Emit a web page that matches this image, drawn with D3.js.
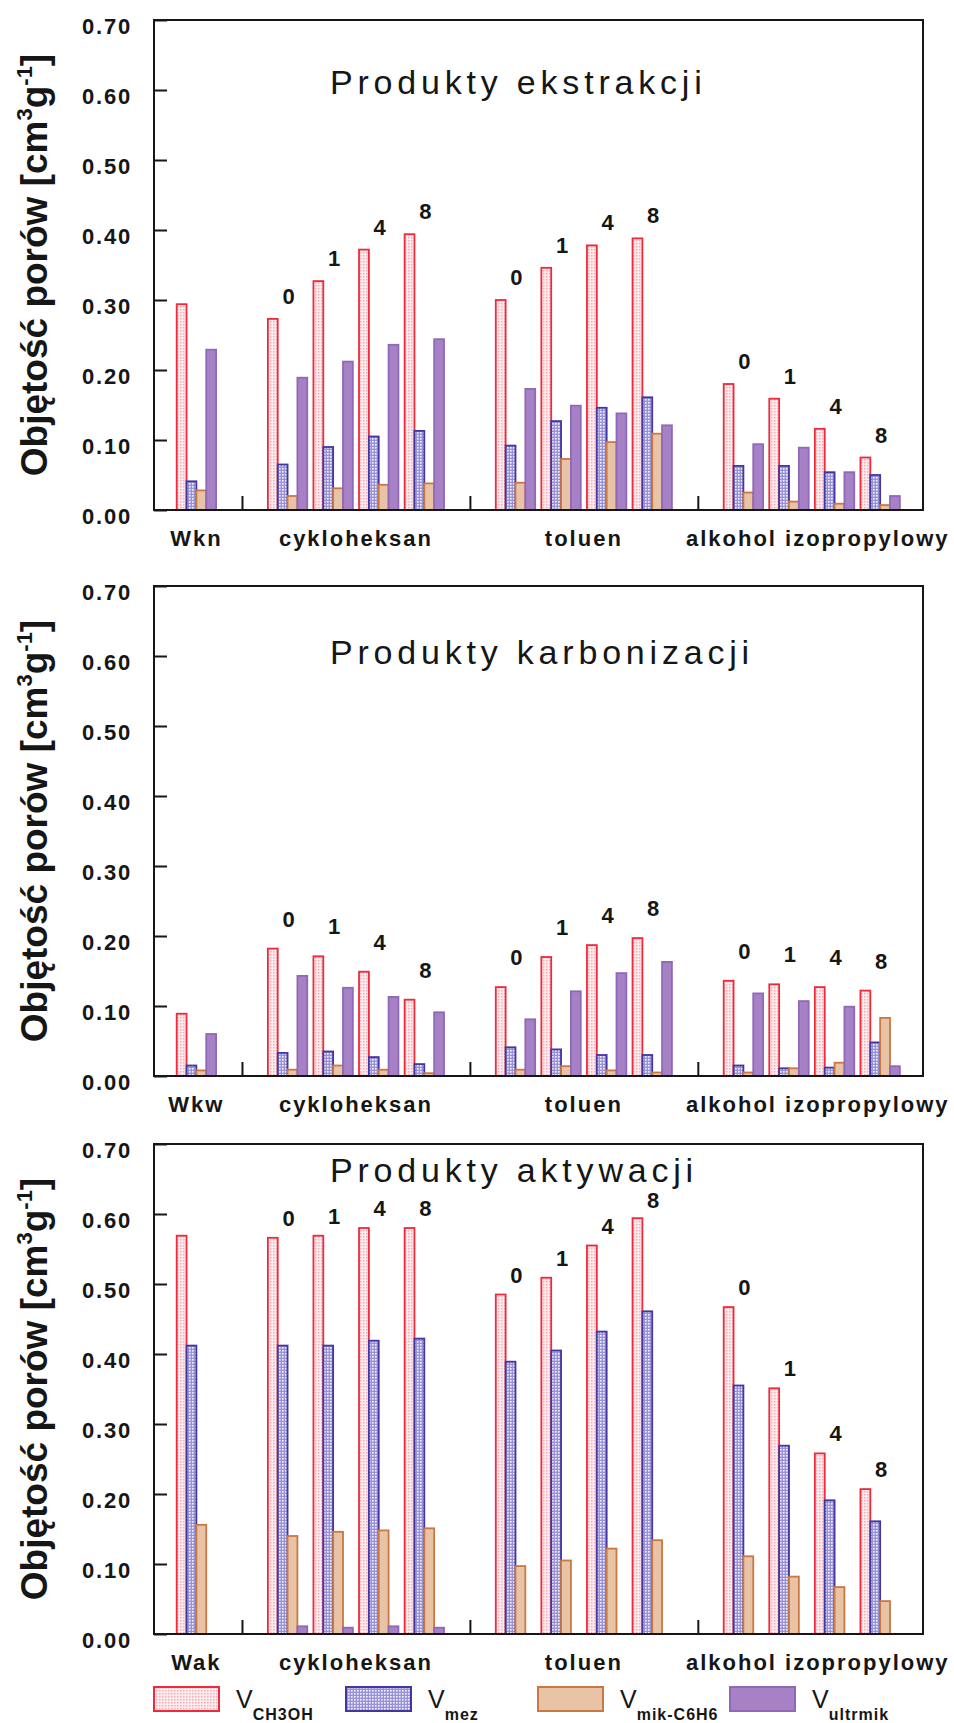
<!DOCTYPE html>
<html>
<head>
<meta charset="utf-8">
<script src="https://d3js.org/d3.v7.min.js"></script>
<style>
    body { margin: 0; background: #fff; }
    svg { display: block; font-family: "Liberation Sans", Arial, Helvetica, sans-serif; }
</style>
</head>
<body>
<svg id="chart" width="954" height="1723"></svg>
<script>
// CATEGORIES
var groupNames = [ "cykloheksan", "toluen", "alkohol izopropylowy" ];
var hours = [ "0", "1", "4", "8" ];
var seriesKeys = [ "ch3oh", "mez", "mik", "ultrmik" ];
var seriesSubs = [ "CH3OH", "mez", "mik-C6H6", "ultrmik" ];
var yTicks = [ 0, 0.1, 0.2, 0.3, 0.4, 0.5, 0.6, 0.7 ];

// order of every series: base, cykloheksan 0 1 4 8, toluen 0 1 4 8, alkohol 0 1 4 8

// PRODUKTY EKSTRAKCJI
var ekstrCH3OH = [ 0.294, 0.273, 0.327, 0.372, 0.394, 0.300, 0.346, 0.378, 0.388, 0.180, 0.159, 0.116, 0.075 ];
var ekstrMez = [ 0.041, 0.065, 0.090, 0.105, 0.113, 0.092, 0.127, 0.146, 0.161, 0.063, 0.063, 0.054, 0.050 ];
var ekstrMik = [ 0.028, 0.020, 0.031, 0.036, 0.038, 0.039, 0.073, 0.097, 0.109, 0.025, 0.012, 0.009, 0.007 ];
var ekstrUltr = [ 0.229, 0.189, 0.212, 0.236, 0.244, 0.173, 0.149, 0.138, 0.121, 0.094, 0.089, 0.054, 0.020 ];

// PRODUKTY KARBONIZACJI
var karbCH3OH = [ 0.089, 0.182, 0.171, 0.149, 0.109, 0.127, 0.170, 0.187, 0.197, 0.136, 0.131, 0.127, 0.122 ];
var karbMez = [ 0.015, 0.033, 0.035, 0.027, 0.017, 0.041, 0.038, 0.030, 0.030, 0.015, 0.011, 0.012, 0.048 ];
var karbMik = [ 0.008, 0.009, 0.015, 0.009, 0.004, 0.009, 0.014, 0.008, 0.005, 0.005, 0.011, 0.019, 0.083 ];
var karbUltr = [ 0.060, 0.143, 0.126, 0.113, 0.091, 0.081, 0.121, 0.147, 0.163, 0.118, 0.107, 0.099, 0.014 ];

// PRODUKTY AKTYWACJI
var aktCH3OH = [ 0.569, 0.566, 0.569, 0.580, 0.580, 0.485, 0.509, 0.555, 0.594, 0.467, 0.351, 0.258, 0.207 ];
var aktMez = [ 0.412, 0.412, 0.412, 0.419, 0.422, 0.389, 0.405, 0.432, 0.461, 0.355, 0.269, 0.191, 0.161 ];
var aktMik = [ 0.156, 0.140, 0.146, 0.148, 0.151, 0.097, 0.105, 0.122, 0.134, 0.111, 0.082, 0.067, 0.047 ];
var aktUltr = [ 0, 0.011, 0.009, 0.011, 0.009, 0, 0, 0, 0, 0, 0, 0, 0 ];

var panels = [
    { title: "Produkty ekstrakcji", base: "Wkn", top: 20, titleDy: 74, labelGap: 15, values: [ ekstrCH3OH, ekstrMez, ekstrMik, ekstrUltr ] },
    { title: "Produkty karbonizacji", base: "Wkw", top: 586, titleDy: 78, labelGap: 22, values: [ karbCH3OH, karbMez, karbMik, karbUltr ] },
    { title: "Produkty aktywacji", base: "Wak", top: 1144, titleDy: 38, labelGap: 12, values: [ aktCH3OH, aktMez, aktMik, aktUltr ] }
];

// layout
var plotLeft = 154, plotRight = 923, plotHeight = 490;
var ink = "#161616";

var styles = {
    ch3oh: { fill: "url(#patRed)", stroke: "#ee2a3c" },
    mez: { fill: "url(#patBlue)", stroke: "#4535a0" },
    mik: { fill: "#e9c3a6", stroke: "#c97843" },
    ultrmik: { fill: "#a781c6", stroke: "#9068b8" }
};

var svg = d3.select( "#chart" );

// PATTERNS FOR THE HATCHED BARS
var defs = svg.append( "defs" );
var red = defs.append( "pattern" ).attr( "id", "patRed" )
    .attr( "patternUnits", "userSpaceOnUse" ).attr( "width", 3 ).attr( "height", 3 );
red.append( "rect" ).attr( "width", 3 ).attr( "height", 3 ).attr( "fill", "#fdecee" );
red.append( "rect" ).attr( "width", 1.5 ).attr( "height", 1.5 ).attr( "fill", "#f3adb5" );

var blue = defs.append( "pattern" ).attr( "id", "patBlue" )
    .attr( "patternUnits", "userSpaceOnUse" ).attr( "width", 3 ).attr( "height", 3 );
blue.append( "rect" ).attr( "width", 3 ).attr( "height", 3 ).attr( "fill", "#9792d6" );
blue.append( "rect" ).attr( "width", 1.6 ).attr( "height", 1.6 ).attr( "fill", "#f4f3fc" );

// which slot each cluster sits in, plus the group separators
function buildClusters( base ) {
    var clusters = [ { name: base, hour: null, slot: 1, group: -1 } ];
    var seps = [ 2 ];
    var slot = 3;
    groupNames.forEach( function ( g, gi ) {
        hours.forEach( function ( h ) {
            clusters.push( { name: g, hour: h, slot: slot, group: gi } );
            slot++;
        } );
        if ( gi < groupNames.length - 1 ) {
            seps.push( slot );
            slot++;
        }
    } );
    return { clusters: clusters, seps: seps };
}

var x = d3.scaleLinear().domain( [ 0.07, 16.94 ] ).range( [ plotLeft, plotRight ] );
var inner = d3.scaleBand().domain( seriesKeys ).range( [ -19.7, 19.7 ] );

panels.forEach( function ( p ) {
    drawPanel( p );
} );

function drawPanel( p ) {
    var bottom = p.top + plotHeight;
    var y = d3.scaleLinear().domain( [ 0, 0.7 ] ).range( [ bottom, p.top ] );
    var layout = buildClusters( p.base );
    var g = svg.append( "g" );
    // hour labels must stay clear of the title
    var labelLimit = p.top + p.titleDy + 26;

    // BARS
    layout.clusters.forEach( function ( c, ci ) {
        seriesKeys.forEach( function ( k, si ) {
            var v = p.values[ si ][ ci ];
            if ( !v ) return;
            g.append( "rect" )
                .attr( "x", x( c.slot ) + inner( k ) )
                .attr( "y", y( v ) )
                .attr( "width", inner.bandwidth() )
                .attr( "height", y( 0 ) - y( v ) )
                .attr( "fill", styles[ k ].fill )
                .attr( "stroke", styles[ k ].stroke )
                .attr( "stroke-width", 1.8 );
        } );

        // hour label above the cluster
        if ( c.hour !== null ) {
            var top = d3.max( p.values, function ( s ) { return s[ ci ]; } );
            g.append( "text" )
                .attr( "x", x( c.slot ) + 1 )
                .attr( "y", Math.max( y( top ) - p.labelGap, labelLimit ) )
                .attr( "text-anchor", "middle" )
                .attr( "font-size", 22 )
                .attr( "font-weight", "bold" )
                .attr( "fill", ink )
                .text( c.hour );
        }
    } );

    // FRAME
    g.append( "rect" )
        .attr( "x", plotLeft ).attr( "y", p.top )
        .attr( "width", plotRight - plotLeft ).attr( "height", plotHeight )
        .attr( "fill", "none" ).attr( "stroke", ink ).attr( "stroke-width", 2 );

    // Y AXIS, ticks inside, labels outside
    var yAxis = g.append( "g" )
        .attr( "transform", "translate(" + plotLeft + ",0)" )
        .call( d3.axisLeft( y ).tickValues( yTicks ).tickFormat( d3.format( ".2f" ) ).tickSize( -13 ).tickPadding( 22 ) );
    yAxis.select( ".domain" ).remove();
    yAxis.selectAll( "line" ).attr( "stroke", ink ).attr( "stroke-width", 2 );
    yAxis.selectAll( "text" )
        .attr( "dy", "0.6em" )
        .attr( "font-size", 22 )
        .attr( "font-weight", "bold" )
        .attr( "letter-spacing", 1.8 )
        .attr( "fill", ink )
        .attr( "font-family", null );

    // X separators, pointing up
    var xAxis = g.append( "g" )
        .attr( "transform", "translate(0," + bottom + ")" )
        .call( d3.axisBottom( x ).tickValues( layout.seps ).tickSize( -14 ).tickFormat( "" ) );
    xAxis.select( ".domain" ).remove();
    xAxis.selectAll( "line" ).attr( "stroke", ink ).attr( "stroke-width", 2 );

    // category names under the axis
    var cats = [ { name: p.base, slot: 1 } ];
    groupNames.forEach( function ( gn, gi ) {
        var slots = layout.clusters.filter( function ( c ) { return c.group === gi; } )
            .map( function ( c ) { return c.slot; } );
        cats.push( { name: gn, slot: d3.mean( slots ) } );
    } );
    g.selectAll( "text.cat" )
        .data( cats )
        .enter()
        .append( "text" )
        .attr( "class", "cat" )
        .attr( "x", function ( d, i ) { return x( d.slot ) + ( i === 3 ? 6 : 0 ); } )
        .attr( "y", bottom + 36 )
        .attr( "text-anchor", "middle" )
        .attr( "font-size", 22 )
        .attr( "font-weight", "bold" )
        .attr( "letter-spacing", 2 )
        .attr( "fill", ink )
        .text( function ( d ) { return d.name; } );

    // title inside the frame
    g.append( "text" )
        .attr( "x", 330 )
        .attr( "y", p.top + p.titleDy )
        .attr( "font-size", 34 )
        .attr( "letter-spacing", 4.8 )
        .attr( "fill", ink )
        .text( p.title );

    // y axis title
    var yt = g.append( "text" )
        .attr( "transform", "translate(47," + ( p.top + plotHeight / 2 ) + ") rotate(-90)" )
        .attr( "text-anchor", "middle" )
        .attr( "font-size", 37 )
        .attr( "font-weight", "bold" )
        .attr( "fill", ink );
    yt.append( "tspan" ).text( "Objętość porów [cm" );
    yt.append( "tspan" ).attr( "font-size", 22 ).attr( "dy", -15 ).text( "3" );
    yt.append( "tspan" ).attr( "dy", 15 ).text( "g" );
    yt.append( "tspan" ).attr( "font-size", 22 ).attr( "dy", -15 ).text( "-1" );
    yt.append( "tspan" ).attr( "dy", 15 ).text( "]" );
}

// LEGEND
var legend = svg.append( "g" ).attr( "transform", "translate(0,1687)" );
seriesKeys.forEach( function ( k, i ) {
    var lx = plotLeft + i * 192;
    legend.append( "rect" )
        .attr( "x", lx ).attr( "y", 0 )
        .attr( "width", 65 ).attr( "height", 24 )
        .attr( "fill", styles[ k ].fill )
        .attr( "stroke", styles[ k ].stroke )
        .attr( "stroke-width", 2 );
    var t = legend.append( "text" )
        .attr( "x", lx + 82 )
        .attr( "y", 21 )
        .attr( "font-size", 25 )
        .attr( "fill", ink );
    t.append( "tspan" ).text( "V" );
    t.append( "tspan" )
        .attr( "dy", 12 )
        .attr( "font-size", 16 )
        .attr( "font-weight", "bold" )
        .attr( "letter-spacing", 1 )
        .text( seriesSubs[ i ] );
} );
</script>
</body>
</html>
